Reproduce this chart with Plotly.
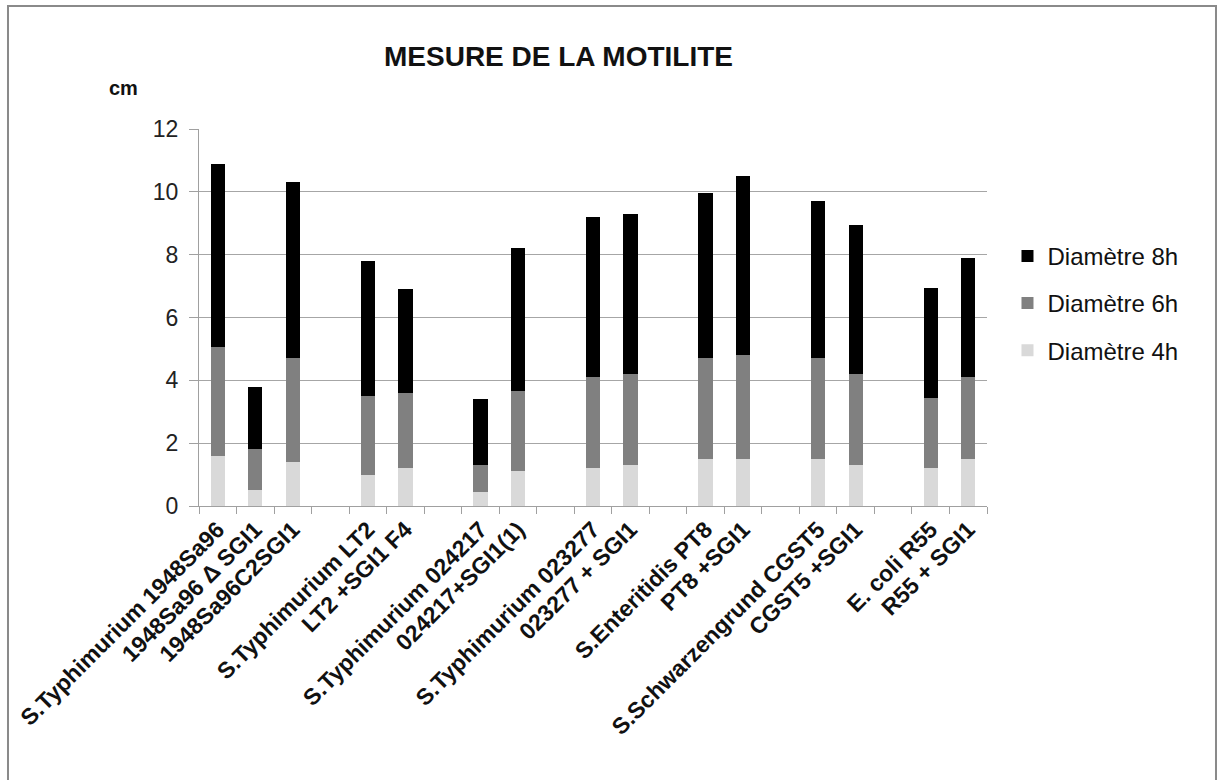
import plotly.graph_objects as go

labels = [
    "S.Typhimurium 1948Sa96", "1948Sa96 Δ SGI1", "1948Sa96C2SGI1", "",
    "S.Typhimurium LT2", "LT2 +SGI1 F4", "",
    "S.Typhimurium 024217", "024217+SGI1(1)", "",
    "S.Typhimurium 023277", "023277 + SGI1", "",
    "S.Enteritidis PT8", "PT8 +SGI1", "",
    "S.Schwarzengrund CGST5", "CGST5 +SGI1", "",
    "E. coli R55", "R55 + SGI1",
]
d4h = [1.6, 0.5, 1.4, None, 1.0, 1.2, None, 0.45, 1.1, None, 1.2, 1.3, None,
       1.5, 1.5, None, 1.5, 1.3, None, 1.2, 1.5]
d6h = [3.45, 1.3, 3.3, None, 2.5, 2.4, None, 0.85, 2.55, None, 2.9, 2.9, None,
       3.2, 3.3, None, 3.2, 2.9, None, 2.25, 2.6]
d8h = [5.85, 2.0, 5.6, None, 4.3, 3.3, None, 2.1, 4.55, None, 5.1, 5.1, None,
       5.25, 5.7, None, 5.0, 4.75, None, 3.5, 3.8]
yticks = [0, 2, 4, 6, 8, 10, 12]

x = list(range(len(labels)))
FONT = "Liberation Sans, Arial, sans-serif"

fig = go.Figure()
for name, vals, col, rank in [("Diamètre 4h", d4h, "#d9d9d9", 3),
                              ("Diamètre 6h", d6h, "#808080", 2),
                              ("Diamètre 8h", d8h, "#000000", 1)]:
    fig.add_trace(go.Bar(x=x, y=vals, name=name, marker_color=col,
                         marker_line_width=0, legendgroup=name, legendrank=rank))

fig.update_layout(
    width=1217, height=780,
    barmode="stack", bargap=0.62,
    paper_bgcolor="white", plot_bgcolor="white",
    margin=dict(l=199, r=230, t=129, b=274),
    font=dict(family=FONT, color="#222"),
    showlegend=True,
    legend=dict(x=1.026, y=0.722, xanchor="left", yanchor="top",
                traceorder="grouped", tracegroupgap=13,
                font=dict(size=24, color="#111")),
    xaxis=dict(range=[-0.5, len(labels) - 0.5], tickmode="array",
               tickvals=x, ticktext=["<b>" + t + "</b>" if t else "" for t in labels],
               tickangle=-45, ticks="",
               tickfont=dict(size=23, color="#111"),
               showline=True, linecolor="#a0a0a0", linewidth=1,
               showgrid=False, zeroline=False,
               minor=dict(ticks="outside", ticklen=7, tickcolor="#a0a0a0",
                          tick0=-0.5, dtick=1, showgrid=False)),
    yaxis=dict(range=[0, 12], tickmode="array", tickvals=yticks,
               ticks="outside", ticklen=9, tickcolor="#a0a0a0",
               ticklabelstandoff=6,
               tickfont=dict(size=23, color="#222"),
               showline=True, linecolor="#a0a0a0", linewidth=1,
               showgrid=True, gridcolor="#a6a6a6", gridwidth=1,
               zeroline=False),
)

fig.add_annotation(text="<b>MESURE DE LA MOTILITE</b>", xref="paper", yref="paper",
                   x=0.4556, y=1.191, xanchor="center", yanchor="middle",
                   showarrow=False, font=dict(size=28, color="#111"))
fig.add_annotation(text="<b>cm</b>", xref="paper", yref="paper",
                   x=-0.0964, y=1.109, xanchor="center", yanchor="middle",
                   showarrow=False, font=dict(size=20, color="#111"))
fig.add_shape(type="rect", xref="paper", yref="paper",
              x0=-0.2424, x1=1.2906, y0=-0.76, y1=1.326,
              line=dict(color="#8a8a8a", width=2), layer="below")

fig.write_html("out.html", config={"displayModeBar": False},
               post_script="document.body.style.margin='0px';")
